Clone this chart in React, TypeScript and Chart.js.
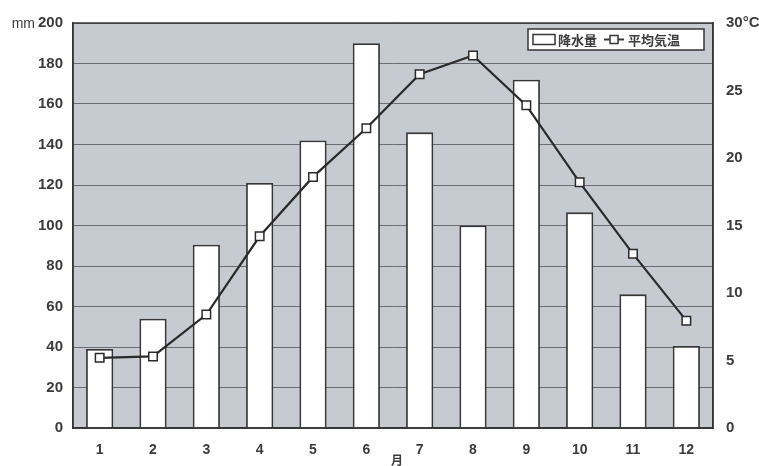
import React, { useEffect, useRef } from "react";
import { Chart, registerables } from "chart.js";

Chart.register(...registerables);

const months = ["1", "2", "3", "4", "5", "6", "7", "8", "9", "10", "11", "12"];
const precipitation = [39, 54, 90.5, 121, 142, 190, 146, 100, 172, 106.5, 66, 40.5];
const temperature = [5.2, 5.3, 8.4, 14.2, 18.6, 22.2, 26.2, 27.6, 23.9, 18.2, 12.9, 7.95];
const precipLabel = "降水量";
const tempLabel = "平均気温";
const leftUnit = "mm";
const rightUnit = "°C";
const xTitle = "月";

const INK = "#363636";
const TEXT = "#3b3b3b";
const PLOT_BG = "#c5cbd0";
const GRID = "#6a6e72";
const FONT = "'Liberation Sans', Arial, sans-serif";
const CJK = "'Noto Sans CJK JP', sans-serif";

const decorPlugin = {
  id: "decor",
  beforeDraw(chart: any) {
    const { ctx, chartArea } = chart;
    ctx.save();
    ctx.fillStyle = "#ffffff";
    ctx.fillRect(0, 0, chart.width, chart.height);
    ctx.fillStyle = PLOT_BG;
    ctx.fillRect(chartArea.left, chartArea.top, chartArea.right - chartArea.left, chartArea.bottom - chartArea.top);
    ctx.restore();
  },
  afterDraw(chart: any) {
    const { ctx, chartArea } = chart;
    const yScale = chart.scales.y;
    const xScale = chart.scales.x;
    ctx.save();
    // plot frame
    ctx.strokeStyle = INK;
    ctx.lineWidth = 1.5;
    ctx.strokeRect(chartArea.left, chartArea.top, chartArea.right - chartArea.left, chartArea.bottom - chartArea.top);

    // unit "mm"
    ctx.fillStyle = TEXT;
    ctx.font = `14px ${FONT}`;
    ctx.textAlign = "right";
    ctx.textBaseline = "middle";
    ctx.fillText(leftUnit, chartArea.left - 38, yScale.getPixelForValue(200) + 1);

    // x title
    ctx.font = `bold 12px ${CJK}`;
    ctx.textAlign = "center";
    ctx.fillText(xTitle, (xScale.left + xScale.right) / 2 + 4, chartArea.bottom + 32);

    // legend box
    const bx = chartArea.right - 185;
    const by = chartArea.top + 6;
    const bw = 176;
    const bh = 21;
    ctx.fillStyle = "#ffffff";
    ctx.fillRect(bx, by, bw, bh);
    ctx.strokeStyle = INK;
    ctx.lineWidth = 1.5;
    ctx.strokeRect(bx, by, bw, bh);
    const cy = by + bh / 2;
    // bar swatch
    ctx.strokeRect(bx + 5, cy - 5, 22, 10);
    ctx.fillStyle = TEXT;
    ctx.font = `bold 13px ${CJK}`;
    ctx.textAlign = "left";
    ctx.textBaseline = "middle";
    ctx.fillText(precipLabel, bx + 30, cy + 1);
    // line swatch
    ctx.beginPath();
    ctx.moveTo(bx + 76, cy);
    ctx.lineTo(bx + 96, cy);
    ctx.lineWidth = 2;
    ctx.stroke();
    ctx.fillStyle = "#ffffff";
    ctx.fillRect(bx + 82, cy - 4, 8, 8);
    ctx.lineWidth = 1.5;
    ctx.strokeRect(bx + 82, cy - 4, 8, 8);
    ctx.fillStyle = TEXT;
    ctx.fillText(tempLabel, bx + 100, cy + 1);
    ctx.restore();
  },
};

export default function App() {
  const ref = useRef<HTMLCanvasElement | null>(null);
  useEffect(() => {
    document.body.style.margin = "0";
    const canvas = ref.current;
    if (!canvas) return;
    const chart = new Chart(canvas, {
      type: "bar",
      data: {
        labels: months,
        datasets: [
          {
            type: "line",
            label: tempLabel,
            data: temperature,
            yAxisID: "y1",
            borderColor: "#2a2a2a",
            borderWidth: 2.2,
            pointStyle: "rect",
            pointRadius: 6,
            pointBackgroundColor: "#ffffff",
            pointBorderColor: "#2a2a2a",
            pointBorderWidth: 1.5,
            tension: 0,
            order: 0,
          } as any,
          {
            type: "bar",
            label: precipLabel,
            data: precipitation,
            yAxisID: "y",
            backgroundColor: "#ffffff",
            borderColor: INK,
            borderWidth: 1.8,
            categoryPercentage: 1,
            barPercentage: 0.51,
            order: 1,
          } as any,
        ],
      },
      options: {
        responsive: false,
        animation: false,
        devicePixelRatio: 1,
        layout: { padding: { top: 23, left: 0, right: 0, bottom: 0 } },
        plugins: {
          legend: { display: false },
          tooltip: { enabled: false },
        },
        scales: {
          x: {
            grid: { display: false },
            border: { display: true, color: INK, width: 1.5 },
            ticks: { color: TEXT, font: { family: FONT, size: 14, weight: "bold" }, padding: 6, maxRotation: 0 },
            afterFit(scale: any) {
              scale.height = 38;
            },
          },
          y: {
            position: "left",
            min: 0,
            max: 200,
            ticks: { stepSize: 20, color: TEXT, font: { family: FONT, size: 15, weight: "bold" }, padding: 10 },
            grid: { color: GRID, lineWidth: 1, drawTicks: false },
            border: { display: true, color: INK, width: 1.5 },
            afterFit(scale: any) {
              scale.width = 73;
            },
          },
          y1: {
            position: "right",
            min: 0,
            max: 30,
            ticks: {
              stepSize: 5,
              color: TEXT,
              font: { family: FONT, size: 15, weight: "bold" },
              padding: 13,
              callback: (v: any) => (v === 30 ? `30${rightUnit}` : `${v}`),
            },
            grid: { display: false, drawTicks: false },
            border: { display: true, color: INK, width: 1.5 },
            afterFit(scale: any) {
              scale.width = 46;
            },
          },
        },
      },
      plugins: [decorPlugin],
    });
    return () => chart.destroy();
  }, []);
  return (
    <div style={{ width: 759, height: 466 }}>
      <canvas ref={ref} width={759} height={466} style={{ display: "block" }} />
    </div>
  );
}
